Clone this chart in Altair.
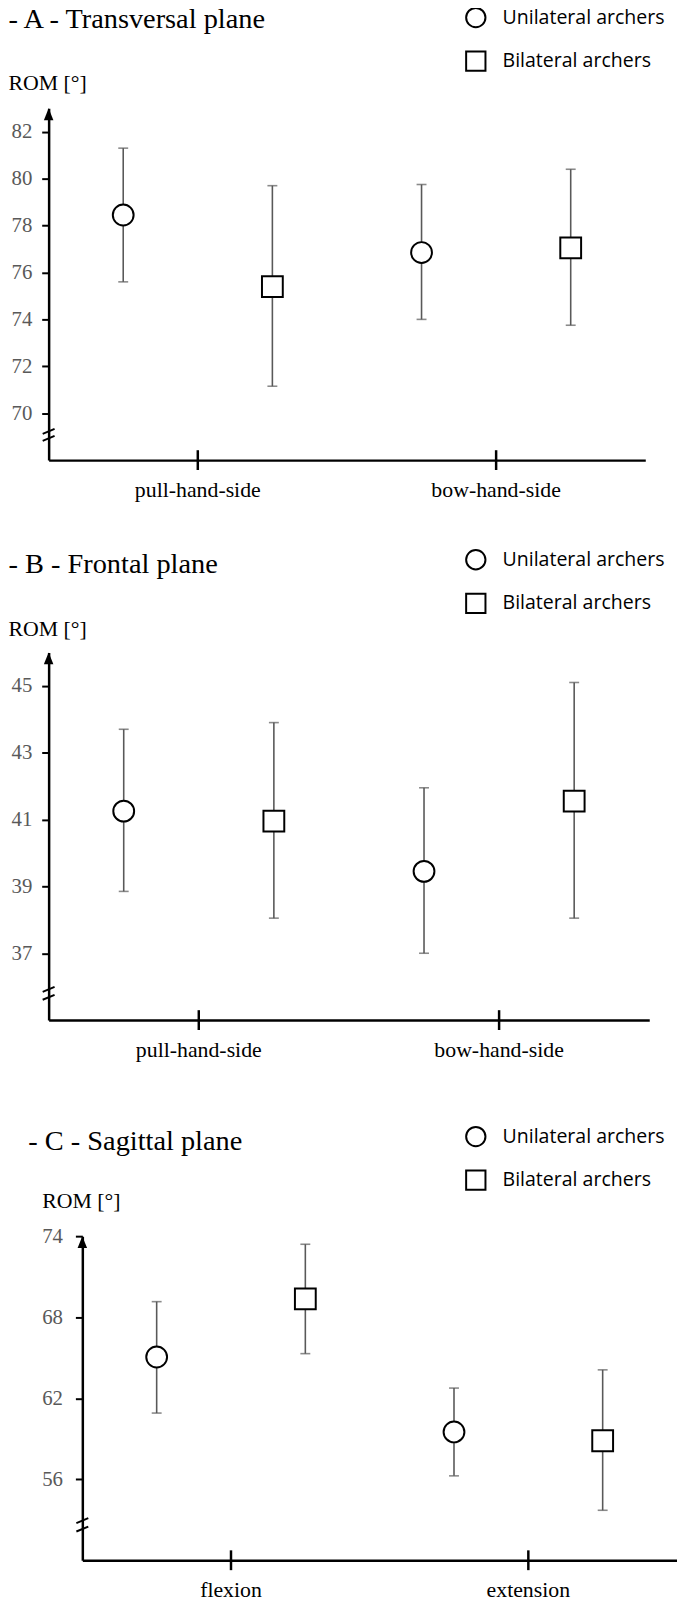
import altair as alt
import pandas as pd

SERIF = "Liberation Serif"
SANS = "Open Sans"
GROUPS = ["Unilateral archers", "Bilateral archers"]
SHAPES = ["circle", "square"]

# ---------------- Panel A ----------------
a_title = "- A - Transversal plane"
a_cats = ["pull-hand-side", "bow-hand-side"]
a_cat = ["pull-hand-side", "pull-hand-side", "bow-hand-side", "bow-hand-side"]
a_grp = ["Unilateral archers", "Bilateral archers", "Unilateral archers", "Bilateral archers"]
a_mean = [78.45, 75.4, 76.85, 77.05]
a_low = [75.6, 71.15, 74.0, 73.75]
a_high = [81.3, 79.7, 79.75, 80.4]
a_ticks = [70, 72, 74, 76, 78, 80, 82]
a_domain = [68, 83]

# ---------------- Panel B ----------------
b_title = "- B - Frontal plane"
b_cats = ["pull-hand-side", "bow-hand-side"]
b_cat = ["pull-hand-side", "pull-hand-side", "bow-hand-side", "bow-hand-side"]
b_grp = ["Unilateral archers", "Bilateral archers", "Unilateral archers", "Bilateral archers"]
b_mean = [41.25, 40.95, 39.45, 41.55]
b_low = [38.85, 38.05, 37.0, 38.05]
b_high = [43.7, 43.9, 41.95, 45.1]
b_ticks = [37, 39, 41, 43, 45]
b_domain = [35, 46]

# ---------------- Panel C ----------------
c_title = "- C - Sagittal plane"
c_cats = ["flexion", "extension"]
c_cat = ["flexion", "flexion", "extension", "extension"]
c_grp = ["Unilateral archers", "Bilateral archers", "Unilateral archers", "Bilateral archers"]
c_mean = [65.05, 69.35, 59.5, 58.85]
c_low = [60.9, 65.3, 56.25, 53.7]
c_high = [69.15, 73.4, 62.75, 64.1]
c_ticks = [56, 62, 68, 74]
c_domain = [50, 74]


def panel(title, cats, cat, grp, mean, low, high, ticks, domain, W, H, ax, top,
          title_dx, title_dy, legend_y, rom_y, breaks, ylab_pad, xlab_pad):
    df = pd.DataFrame({"category": cat, "group": grp, "mean": mean,
                       "low": low, "high": high})
    xs = dict(domain=cats, paddingInner=0, paddingOuter=0)
    if ax:
        xs["range"] = [ax, W]
    x = alt.X("category:N", sort=cats, scale=alt.Scale(**xs),
              axis=alt.Axis(title=None, ticks=False, labelAngle=0,
                            labelFont=SERIF, labelFontSize=22,
                            labelColor="black", labelPadding=xlab_pad,
                            domainColor="black", domainWidth=2.5, grid=False))
    xo = alt.XOffset("group:N", sort=GROUPS,
                     scale=alt.Scale(domain=GROUPS, paddingInner=0, paddingOuter=0))
    ysk = dict(domain=domain, nice=False, zero=False)
    if top:
        ysk["range"] = [H, top]
    ys = alt.Scale(**ysk)
    yax = dict(values=ticks, title="ROM [°]", titleAngle=0, titleAlign="left",
               titleBaseline="middle", titleX=-41, titleY=rom_y,
               titleFont=SERIF, titleFontSize=22, titleFontWeight="normal",
               titleColor="black", labelFont=SERIF, labelFontSize=21,
               labelColor="#595959", labelPadding=ylab_pad, tickColor="black",
               tickWidth=2, tickSize=7, domainColor="black", domainWidth=2.5,
               grid=False)
    if ax:
        yax["offset"] = -ax
    yaxis = alt.Axis(**yax)

    legend = alt.Legend(
        orient="none", legendX=420, legendY=legend_y, title=None, padding=0,
        symbolSize=380, symbolStrokeWidth=2, symbolStrokeColor="black",
        symbolFillColor="white", symbolOpacity=1,
        labelFont=SANS, labelFontSize=19.7, labelColor="black", labelLimit=400,
        labelOffset=16, rowPadding=16)

    base = alt.Chart(df)
    err = base.mark_rule(color="#595959", strokeWidth=1.6).encode(
        x=x, xOffset=xo,
        y=alt.Y("low:Q", scale=ys, axis=yaxis), y2="high:Q")
    cap_hi = base.mark_tick(color="#595959", thickness=1.6, size=10,
                            orient="horizontal").encode(
        x=x, xOffset=xo, y=alt.Y("high:Q", scale=ys, axis=yaxis))
    cap_lo = base.mark_tick(color="#595959", thickness=1.6, size=10,
                            orient="horizontal").encode(
        x=x, xOffset=xo, y=alt.Y("low:Q", scale=ys, axis=yaxis))
    pts = base.mark_point(filled=False, fill="white", strokeWidth=2, size=441,
                          opacity=1, fillOpacity=1).encode(
        x=x, xOffset=xo, y=alt.Y("mean:Q", scale=ys, axis=yaxis),
        shape=alt.Shape("group:N", sort=GROUPS,
                        scale=alt.Scale(domain=GROUPS, range=SHAPES),
                        legend=legend),
        color=alt.Color("group:N", sort=GROUPS,
                        scale=alt.Scale(domain=GROUPS, range=["black", "black"]),
                        legend=legend))
    xticks = alt.Chart(pd.DataFrame({"category": cats})).mark_rule(
        color="black", strokeWidth=2.5).encode(
        x=x, y=alt.value(H - 10), y2=alt.value(H + 10))
    one = pd.DataFrame({"t": [title]})
    arrow = alt.Chart(one).mark_point(shape="M0,-1L0.8,1L-0.8,1Z", filled=True,
                                      fill="black", strokeWidth=0, size=144,
                                      opacity=1).encode(
        x=alt.value(ax), y=alt.value(top + 6))
    brks = [alt.Chart(one).mark_rule(color="black", strokeWidth=2).encode(
        x=alt.value(ax - 6), x2=alt.value(ax + 6),
        y=alt.value(H - d + 2.5), y2=alt.value(H - d - 2.5)) for d in breaks]
    ttl = alt.Chart(one).mark_text(align="left", baseline="alphabetic",
                                   font=SERIF, fontSize=28.6, color="black").encode(
        text="t:N", x=alt.value(title_dx), y=alt.value(title_dy))
    return alt.layer(xticks, err, cap_hi, cap_lo, pts, arrow, *brks, ttl).properties(
        width=W, height=H)


pa = panel(a_title, a_cats, a_cat, a_grp, a_mean, a_low, a_high, a_ticks, a_domain,
           602, 355, 0, 0, -40.5, -81, -102.5, -26, [29, 22], 10, 20)
pb = panel(b_title, b_cats, b_cat, b_grp, b_mean, b_low, b_high, b_ticks, b_domain,
           606, 371, 0, 0, -40.5, -80, -104.5, -24, [31, 23], 10, 20)
pc = panel(c_title, c_cats, c_cat, c_grp, c_mean, c_low, c_high, c_ticks, c_domain,
           634, 351, 34, 24, -20.5, -63, -87.5, -12, [40, 31.5], 13, 20)

chart = alt.vconcat(pa, pb, pc, spacing=194, bounds="flush").resolve_scale(
    x="independent", y="independent", shape="independent",
    color="independent", xOffset="independent"
).resolve_legend(shape="independent", color="independent").properties(
    padding={"left": 0, "top": -10, "right": 0, "bottom": 0}
).configure_view(stroke=None)

chart.save("out.html", embed_options={"renderer": "svg", "actions": False})
